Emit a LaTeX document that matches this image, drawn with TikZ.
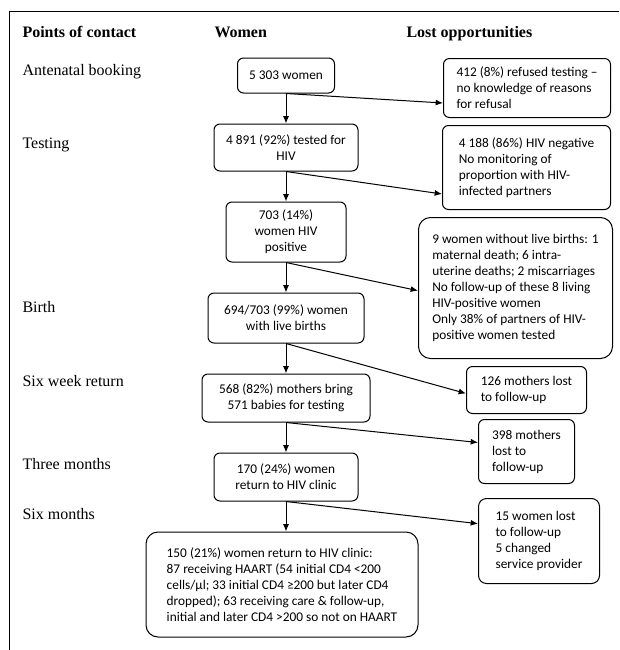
\documentclass[tikz,border=0pt]{standalone}
\usepackage{fontspec}
\setmainfont{Liberation Serif}
\newfontfamily\calib{Carlito}
\usetikzlibrary{positioning}
\usetikzlibrary{arrows.meta}
\tikzset{
	node distance = 22.5pt and 1cm,
	stage/.style = {anchor=base west, inner sep=0pt, font=\fontsize{12}{14}\selectfont},
	heading/.style = {stage, font=\fontsize{12}{14}\selectfont\bfseries},
	women/.style = {draw, rounded corners=4.5pt, align=center, inner sep=2pt, font=\calib\fontsize{10}{12}\selectfont},
	lost/.style = {women, align=left, anchor=north west}
}

\begin{document}
\begin{tikzpicture}[x=0.75pt, y=-0.75pt, line width=0.75pt, -{Latex[length=5.5pt,width=4.5pt]}]
	\useasboundingbox (0,0) rectangle (619,650);
	\draw[-] (9,650) -- (9,11) -- (619,11);

	% Headings
	\node (contact) [heading] at (22,37.5) {Points of contact};
	\node (womenhead) [heading] at (214,37.5) {Women};
	\node (losthead) [heading] at (406,37.5) {Lost opportunities};

	% Points of contact
	\node (antenatal) [stage] at (22,75.5) {Antenatal booking};
	\node (testing) [stage] at (22,148.5) {Testing};
	\node (birth) [stage] at (22,312.5) {Birth};
	\node (sixweek) [stage] at (22,386.5) {Six week return};
	\node (threemonth) [stage] at (22,469) {Three months};
	\node (sixmonth) [stage] at (22,519.5) {Six months};

	% Women
	\node (booking) [women, minimum width=72.75pt, minimum height=26.25pt] at (286,75.5) {5 303 women};
	\node (tested) [women, below = of booking, minimum width=108pt, minimum height=35.25pt] {4 891 (92\%) tested for\\HIV};
	\node (positive) [women, below = of tested, minimum width=90pt, minimum height=45pt] {703 (14\%)\\women HIV\\positive};
	\node (births) [women, below = of positive, minimum width=117pt, minimum height=37.5pt] {694/703 (99\%) women\\with live births};
	\node (bring) [women, below = of births, minimum width=126pt, minimum height=36pt] {568 (82\%) mothers bring\\571 babies for testing};
	\node (clinic) [women, below = of bring, minimum width=108pt, minimum height=36pt] {170 (24\%) women\\return to HIV clinic};
	\node (sixmonths) [women, align=left, rounded corners=9pt, below = of clinic, xshift=-3pt, minimum width=204pt, minimum height=78.75pt] {150 (21\%) women return to HIV clinic:\\87 receiving HAART (54 initial CD4 <200\\cells/µl; 33 initial CD4 ≥200 but later CD4\\dropped); 63 receiving care \& follow-up,\\initial and later CD4 >200 so not on HAART};

	% Lost opportunities
	\node (refused) [lost, minimum width=125.25pt, minimum height=44.25pt] at (443,58) {412 (8\%) refused testing –\\no knowledge of reasons\\for refusal};
	\node (negative) [lost, minimum width=126pt, minimum height=63pt] at (442,125) {4 188 (86\%) HIV negative\\No monitoring of\\proportion with HIV-\\infected partners};
	\node (nolive) [lost, rounded corners=9pt, minimum width=145.5pt, minimum height=105.75pt] at (418,217) {9 women without live births: 1\\maternal death; 6 intra-\\uterine deaths; 2 miscarriages\\No follow-up of these 8 living\\HIV-positive women\\Only 38\% of partners of HIV-\\positive women tested};
	\node (lostweek) [lost, minimum width=90pt, minimum height=35.25pt] at (466,366) {126 mothers lost\\to follow-up};
	\node (lostclinic) [lost, minimum width=72pt, minimum height=48pt] at (478,419) {398 mothers\\lost to\\follow-up};
	\node (lostsix) [lost, rounded corners=6pt, minimum width=90.75pt, minimum height=63.75pt] at (478,498) {15 women lost\\to follow-up\\5 changed\\service provider};

	\path (booking.south) edge (tested.north);
	\path (tested.south) edge (positive.north);
	\path (positive.south) edge (births.north);
	\path (births.south) edge (bring.north);
	\path (bring.south) edge (clinic.north);
	\path (clinic.south) edge (clinic.south |- sixmonths.north);

	\path (booking.south) edge ([yshift=11.25pt]refused.south west);
	\path (tested.south) edge ([yshift=12pt]negative.south west);
	\path (positive.south) edge ([yshift=-2pt]nolive.west);
	\path (births.south) edge ([yshift=-2.6pt]lostweek.west);
	\path (bring.south) edge ([yshift=6.75pt]lostclinic.west);
	\path (clinic.south) edge ([yshift=13pt]lostsix.west);
\end{tikzpicture}
\end{document}
